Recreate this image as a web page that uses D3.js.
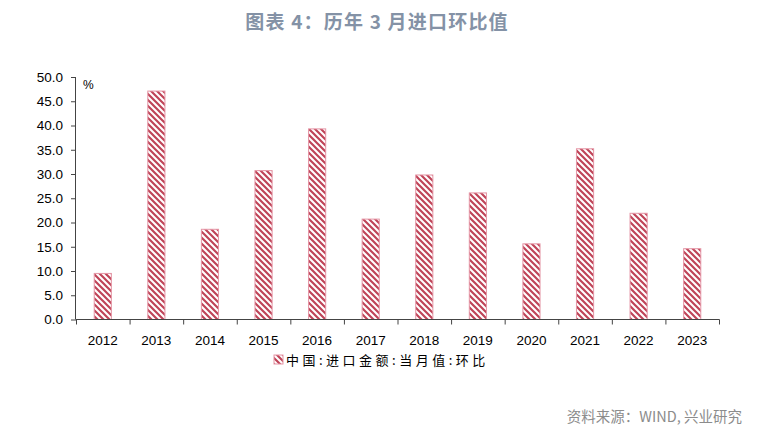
<!DOCTYPE html>
<html><head><meta charset="utf-8">
<script src="https://cdn.jsdelivr.net/npm/d3@7"></script>
<style>body{margin:0;background:#fff}svg{display:block}</style>
</head><body>
<script>
const categories = ["2012","2013","2014","2015","2016","2017","2018","2019","2020","2021","2022","2023"];
const values = [9.5, 47.1, 18.6, 30.7, 39.3, 20.7, 29.8, 26.1, 15.6, 35.2, 21.9, 14.6];
const yTicks = [0,5,10,15,20,25,30,35,40,45,50];
const seriesName = "中国:进口金额:当月值:环比";
const titleText = "图表 4：历年 3 月进口环比值";
const sourceText = "资料来源：WIND, 兴业研究";

const W = 771, H = 440;
const svg = d3.select("body").append("svg").attr("width", W).attr("height", H);
const defs = svg.append("defs");
const pat = defs.append("pattern").attr("id","hatch").attr("patternUnits","userSpaceOnUse")
  .attr("width",6).attr("height",6);
pat.append("rect").attr("width",6).attr("height",6).attr("fill","#fff");
pat.append("path").attr("d","M-1,-1 L7,7 M-4,2 L2,8 M4,-2 L10,4")
  .attr("stroke","#bf4458").attr("stroke-width",2.2);

const x = d3.scaleBand().domain(categories).range([76, 719]).paddingInner(0.68).paddingOuter(0.34);
const y = d3.scaleLinear().domain([0, 50]).range([319.5, 77]);

// title
svg.append("text").attr("x", 377).attr("y", 29).attr("text-anchor","middle")
  .attr("font-family","'Noto Sans CJK SC', 'Noto Sans', sans-serif").attr("font-weight","bold")
  .attr("font-size", 19).attr("letter-spacing",1.2).attr("fill","#8492a6").text(titleText);

// bars
svg.append("g").selectAll("rect").data(values).join("rect")
  .attr("x",(d,i)=>x(categories[i])).attr("width",x.bandwidth())
  .attr("y",d=>y(d)).attr("height",d=>y(0)-y(d))
  .attr("fill","url(#hatch)").attr("stroke","#e596a6").attr("stroke-width",1);

// y axis
const yAxis = d3.axisLeft(y).tickValues(yTicks).tickFormat(d3.format(".1f")).tickSize(5).tickPadding(8);
const gy = svg.append("g").attr("transform","translate(76,0)").call(yAxis);
gy.select(".domain").attr("stroke","#444").attr("d","M-0.5,77V319.5");
gy.selectAll(".tick line").attr("stroke","#444");
gy.selectAll("text").attr("font-family","'Liberation Sans', Arial, sans-serif").attr("font-size",13.5).attr("fill","#000");

// x axis with boundary ticks
const gx = svg.append("g").attr("transform","translate(0,319.5)");
gx.append("line").attr("x1",76).attr("x2",719.5).attr("stroke","#444");
const step = x.step();
gx.selectAll(".bt").data(categories.concat(["end"])).join("line")
  .attr("x1",(d,i)=> i<categories.length ? x(d)-x.paddingOuter()*step+0.5 : 719.5)
  .attr("x2",(d,i)=> i<categories.length ? x(d)-x.paddingOuter()*step+0.5 : 719.5)
  .attr("y1",0).attr("y2",5).attr("stroke","#444");
gx.selectAll(".lbl").data(categories).join("text")
  .attr("x",d=>x(d)+x.bandwidth()/2).attr("y",25).attr("text-anchor","middle")
  .attr("font-family","'Liberation Sans', Arial, sans-serif").attr("font-size",13.5).attr("fill","#000").text(d=>d);

// % label
svg.append("text").attr("x",83).attr("y",89).attr("font-family","'Liberation Sans', Arial, sans-serif")
  .attr("font-size",12).attr("fill","#000").text("%");

// legend
svg.append("rect").attr("x",274).attr("y",355).attr("width",9).attr("height",9)
  .attr("fill","url(#hatch)").attr("stroke","#e596a6");
svg.append("text").attr("x",286).attr("y",364.5)
  .attr("font-family","'Noto Sans CJK SC', sans-serif").attr("font-size",13)
  .attr("letter-spacing",3.5).attr("fill","#000").text(seriesName);

// source
svg.append("text").attr("x",742).attr("y",422).attr("text-anchor","end")
  .attr("font-family","'Noto Sans CJK SC', sans-serif").attr("font-size",14.5)
  .attr("fill","#8c8c8c").text(sourceText);
</script>
</body></html>
